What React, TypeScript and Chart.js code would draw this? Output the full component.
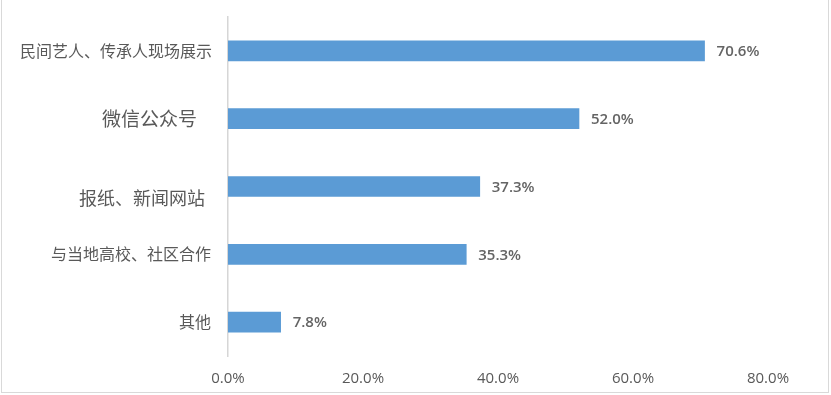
import React, { useEffect, useRef } from "react";
import { Chart, registerables } from "chart.js";

Chart.register(...registerables);

const categories = [
  "民间艺人、传承人现场展示",
  "微信公众号",
  "报纸、新闻网站",
  "与当地高校、社区合作",
  "其他",
];
const values = [70.6, 52.0, 37.3, 35.3, 7.8];
const xTicks = [0, 20, 40, 60, 80];

// style-only constants
const labelFontSizes = [16, 19, 18, 16, 16];
const labelShiftX = [0, 15, 7, 1, 1];
const labelShiftY = [0, 0, 12, 0, 0];
const FONT = "'Open Sans', 'Noto Sans CJK SC', sans-serif";
const CJK_FONT = "'Noto Sans CJK SC', 'Open Sans', sans-serif";
const TEXT = "#595959";
const BAR = "#5B9BD5";

const valueLabels = {
  id: "valueLabels",
  afterDatasetsDraw(chart: any) {
    const ctx = chart.ctx;
    const meta = chart.getDatasetMeta(0);
    ctx.save();
    ctx.font = `600 15px ${FONT}`;
    ctx.fillStyle = "#646464";
    ctx.textAlign = "left";
    ctx.textBaseline = "middle";
    meta.data.forEach((bar: any, i: number) => {
      const v = chart.data.datasets[0].data[i] as number;
      ctx.fillText(v.toFixed(1) + "%", bar.x + 12, bar.y + 1);
    });
    ctx.restore();
  },
};

export default function App() {
  const ref = useRef<HTMLCanvasElement | null>(null);
  useEffect(() => {
    if (!ref.current) return;
    const chart = new Chart(ref.current, {
      type: "bar",
      data: {
        labels: categories,
        datasets: [
          {
            data: values,
            backgroundColor: BAR,
            borderWidth: 0,
            barThickness: 20,
          },
        ],
      },
      plugins: [valueLabels],
      options: {
        indexAxis: "y",
        animation: false,
        responsive: false,
        maintainAspectRatio: false,
        layout: { padding: { top: 17, left: 0, right: 63, bottom: 0 } },
        plugins: {
          legend: { display: false },
          tooltip: { enabled: false },
        },
        scales: {
          x: {
            min: 0,
            max: 80,
            afterBuildTicks: (scale: any) => {
              scale.ticks = xTicks.map((v) => ({ value: v }));
            },
            afterFit: (scale: any) => {
              scale.height = 39;
              scale.paddingLeft = 0;
              scale.paddingRight = 0;
            },
            grid: { display: false, drawTicks: false },
            border: { display: false },
            ticks: {
              padding: 14,
              color: TEXT,
              font: { family: FONT, size: 15 },
              callback: (v: any) => Number(v).toFixed(1) + "%",
            },
          },
          y: {
            afterFit: (scale: any) => {
              scale.width = 228;
              scale.paddingTop = 0;
              scale.paddingBottom = 0;
              if (!scale.__patched) {
                const orig = scale._computeLabelItems;
                if (typeof orig === "function") {
                  scale._computeLabelItems = function (area: any) {
                    const items = orig.call(this, area);
                    items.forEach((it: any, i: number) => {
                      if (it && it.options && it.options.translation) {
                        it.options.translation[0] -= labelShiftX[i] || 0;
                        it.options.translation[1] += labelShiftY[i] || 0;
                      }
                    });
                    return items;
                  };
                }
                scale.__patched = true;
              }
            },
            grid: { display: false, drawTicks: false },
            border: { display: true, color: "#d6d6d6", width: 1.5 },
            ticks: {
              padding: 16,
              color: TEXT,
              font: (ctx: any) => ({
                family: CJK_FONT,
                size: labelFontSizes[ctx.index] || 16,
              }),
            },
          },
        },
      },
    });
    return () => chart.destroy();
  }, []);

  return (
    <>
      <div
        style={{
          position: "fixed",
          left: 1,
          top: 0,
          width: 828,
          height: 393,
          boxSizing: "border-box",
          borderLeft: "1px solid #d9d9d9",
          borderRight: "1px solid #d9d9d9",
          borderBottom: "1px solid #d9d9d9",
          background: "#fff",
        }}
      />
      <div style={{ position: "fixed", left: 0, top: 0, width: 831, height: 395 }}>
        <canvas ref={ref} width={831} height={395} style={{ display: "block" }} />
      </div>
    </>
  );
}
